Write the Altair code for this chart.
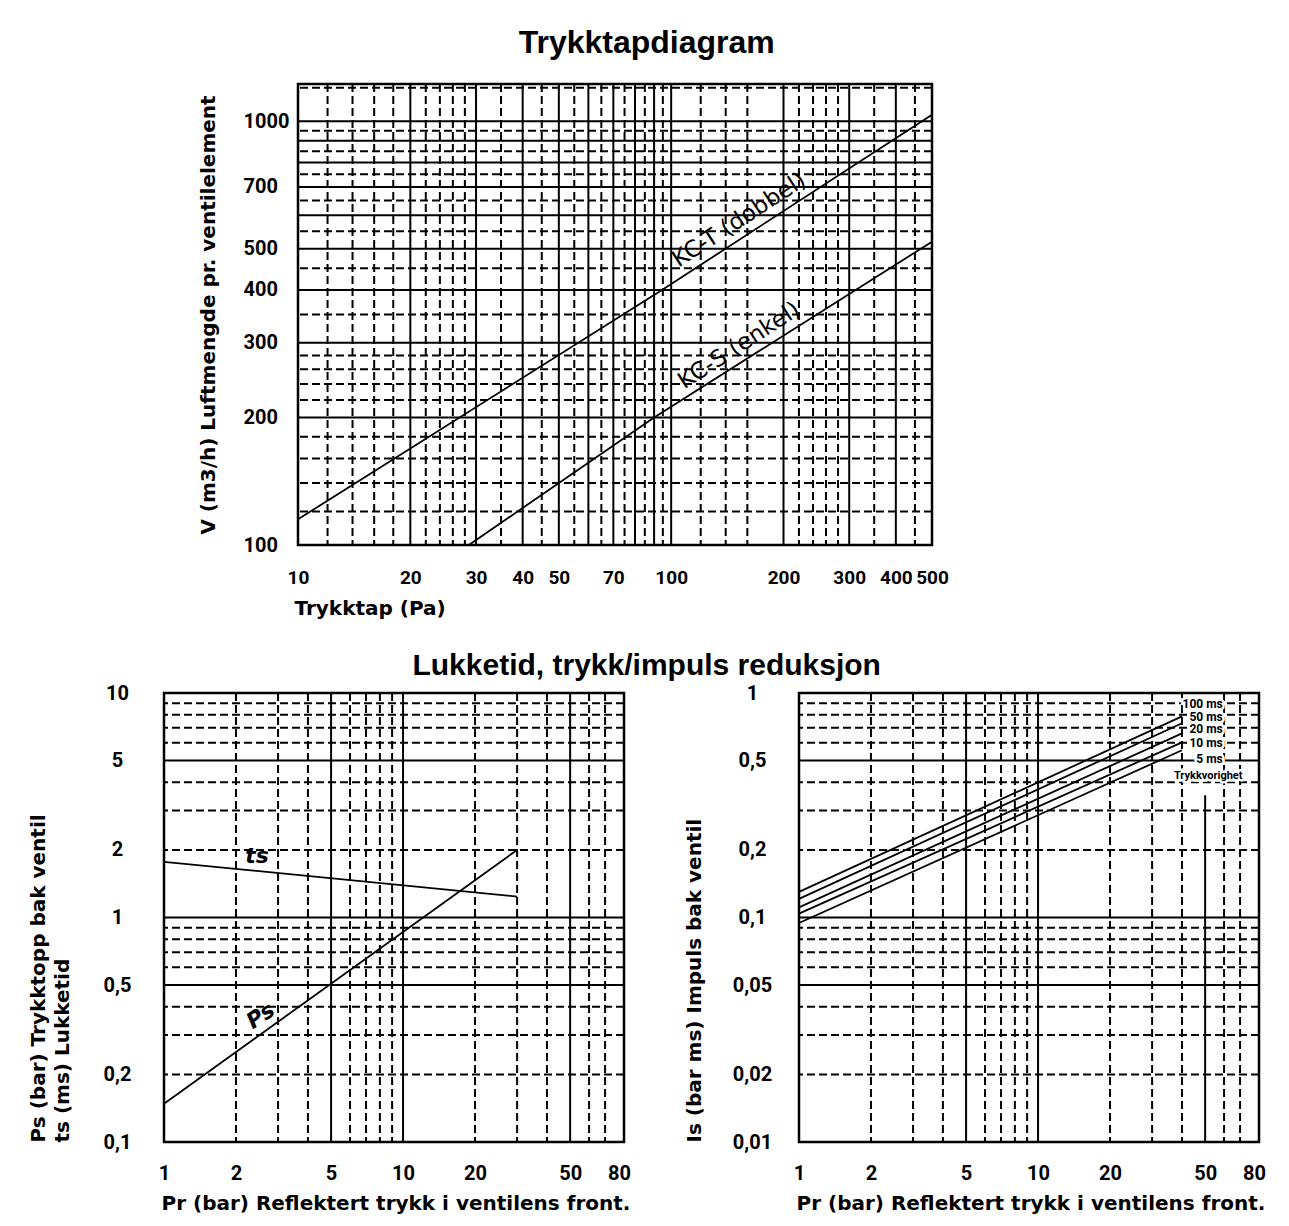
import altair as alt
import pandas as pd

# ---------------- data ----------------
# Top chart: Trykktapdiagram (log-log)
TOP_X_DOMAIN = [10, 500]
TOP_Y_DOMAIN = [100, 1225]
TOP_X_TICKS = [10, 20, 30, 40, 50, 70, 100, 200, 300, 400, 500]
TOP_Y_TICKS = [100, 200, 300, 400, 500, 700, 1000]
TOP_X_SOLID = [20, 30, 40, 50, 60, 70, 80, 90, 100, 200, 300, 400]
TOP_X_DASHED = [12, 14, 16, 18, 22, 24, 26, 28, 35, 45, 55, 65, 75, 85, 95,
                120, 140, 160, 220, 240, 260, 280, 350, 450]
TOP_Y_SOLID = [200, 300, 400, 500, 600, 700, 800, 900, 1000]
TOP_Y_DASHED = [120, 140, 160, 180, 220, 240, 260, 280, 350, 450, 550, 650,
                750, 850, 950, 1200]

KCT_X = [10, 94.5, 500]
KCT_Y = [115, 400, 1037]
KCS_X = [28.7, 90, 500]
KCS_Y = [100, 200, 520]
TOP_CURVE_LABELS = ["KC-T (dobbel)", "KC-S (enkel)"]
TOP_CURVE_LABEL_X = [160, 160]
TOP_CURVE_LABEL_Y = [546, 276]

# Bottom charts: common x axis
BOT_X_DOMAIN = [1, 84]
BOT_X_TICKS = [1, 2, 5, 10, 20, 50, 80]
BOT_X_SOLID = [5, 10, 50]
BOT_X_DASHED = [2, 3, 4, 6, 7, 8, 9, 20, 30, 40, 60, 70]

# Bottom-left: Ps / ts
PS_Y_DOMAIN = [0.1, 10]
PS_Y_TICKS = [0.1, 0.2, 0.5, 1, 2, 5, 10]
PS_Y_SOLID = [0.5, 1, 5]
PS_Y_DASHED = [0.2, 0.3, 0.4, 0.6, 0.7, 0.8, 0.9, 2, 3, 4, 6, 7, 8, 9]
TS_X = [1, 30]
TS_Y = [1.77, 1.24]
PS_X = [1, 30]
PS_Y = [0.148, 2.0]
PS_LABELS = ["ts", "Ps"]
PS_LABEL_X = [2.45, 2.75]
PS_LABEL_Y = [1.61, 0.321]
PS_LABEL_ANGLE = [0, 326]

# Bottom-right: Is
IS_Y_DOMAIN = [0.01, 1]
IS_Y_TICKS = [0.01, 0.02, 0.05, 0.1, 0.2, 0.5, 1]
IS_X_SOLID = [5, 10]
IS_X_SOLID_SHORT = [50]
IS_SHORT_Y = [0.01]
IS_SHORT_Y2 = [0.35]
IS_X_DASHED = [2, 3, 4, 6, 7, 8, 9, 20, 30, 40, 60, 70]
IS_Y_SOLID = [0.05, 0.1, 0.5]
IS_Y_DASHED = [0.02, 0.03, 0.04, 0.06, 0.07, 0.08, 0.09,
               0.2, 0.3, 0.4, 0.6, 0.7, 0.8, 0.9]
DUR_NAMES = ["100 ms", "50 ms", "20 ms", "10 ms", "5 ms"]
DUR_X = [1, 40]
DUR_Y_START = [0.130, 0.121, 0.111, 0.104, 0.0945]
DUR_Y_END = [0.787, 0.733, 0.661, 0.603, 0.556]
DUR_LABEL_Y = [0.89, 0.78, 0.69, 0.6, 0.51]
DUR_LABEL_X = [61, 61, 61, 61, 61]
DUR_TITLE = ["Trykkvorighet"]
DUR_TITLE_X = [51.5]
DUR_TITLE_Y = [0.425]

# ---------------- styling ----------------
FT = "DejaVu Sans"
FTICK = "Roboto"
FTITLE = "Liberation Sans"
LW = 2
DASH = [8, 4]
TICK_SIZE = 20
AXTITLE_SIZE = 20

TOP_W, TOP_H = 634, 461
BOT_W, BOT_H = 460, 449
SPACER_W = 31
ROW_SPACING = 30
COL_SPACING = 50


def lscale(domain):
    return alt.Scale(type="log", domain=domain, nice=False)


def x_axis(values, title, label_expr, title_x, title_y, label_pad, label_size):
    return alt.Axis(values=values, labelExpr=label_expr, title=title,
                    grid=False, ticks=False, tickSize=0, domain=False,
                    labelFlush=False, labelOverlap=False, labelPadding=label_pad,
                    labelFont=FTICK, labelFontSize=label_size, labelFontWeight="bold",
                    labelColor="black", titleFont=FT, titleFontSize=AXTITLE_SIZE,
                    titleFontWeight="bold", titleColor="black", titleAlign="left",
                    titleAnchor="start", titleBaseline="alphabetic",
                    titleX=title_x, titleY=title_y)


def y_axis(values, title, label_expr, label_align, label_pad, title_x,
           title_anchor, title_y=None):
    kw = dict(values=values, labelExpr=label_expr, title=title,
              grid=False, ticks=False, tickSize=0, domain=False,
              labelFlush=False, labelOverlap=False, labelPadding=label_pad,
              labelAlign=label_align, labelBaseline="middle",
              labelFont=FTICK, labelFontSize=TICK_SIZE, labelFontWeight="bold",
              labelColor="black", titleFont=FT, titleFontSize=AXTITLE_SIZE,
              titleFontWeight="bold", titleColor="black",
              titleBaseline="alphabetic", titleX=title_x,
              titleAnchor=title_anchor, titleLineHeight=24)
    if title_y is not None:
        kw["titleY"] = title_y
        kw["titleAlign"] = "left"
    return alt.Axis(**kw)


def panel(xs, ys, xa, ya, vsolid, vdashed, hsolid, hdashed, extra):
    layers = []
    for vals, dashed in ((vdashed, True), (vsolid, False)):
        kw = dict(color="black", strokeWidth=LW)
        if dashed:
            kw["strokeDash"] = DASH
        layers.append(alt.Chart(pd.DataFrame({"x": vals})).mark_rule(**kw)
                      .encode(x=alt.X("x:Q", scale=xs, axis=xa)))
    for vals, dashed in ((hdashed, True), (hsolid, False)):
        kw = dict(color="black", strokeWidth=LW)
        if dashed:
            kw["strokeDash"] = DASH
        layers.append(alt.Chart(pd.DataFrame({"y": vals})).mark_rule(**kw)
                      .encode(y=alt.Y("y:Q", scale=ys, axis=ya)))
    layers += extra
    return layers


def line(xv, yv, xs, ys, xa, ya, group=None):
    df = pd.DataFrame({"x": xv, "y": yv})
    enc = dict(x=alt.X("x:Q", scale=xs, axis=xa), y=alt.Y("y:Q", scale=ys, axis=ya))
    if group is not None:
        df["g"] = group
        enc["detail"] = "g:N"
    return alt.Chart(df).mark_line(color="black", strokeWidth=1.8).encode(**enc)


FRAME = alt.ViewBackground(stroke="black", strokeWidth=2.5)

# ---------------- top chart ----------------
xs_t = lscale(TOP_X_DOMAIN)
ys_t = lscale(TOP_Y_DOMAIN)
xa_t = x_axis(TOP_X_TICKS, "Trykktap (Pa)", "toString(datum.value)", -4, 69, 23, 19)
ya_t = y_axis(TOP_Y_TICKS, "V (m3/h) Luftmengde pr. ventilelement",
              "toString(datum.value)", "left", 55, -84, "middle")

top_labels = alt.Chart(pd.DataFrame({"x": TOP_CURVE_LABEL_X, "y": TOP_CURVE_LABEL_Y,
                                     "t": TOP_CURVE_LABELS})).mark_text(
    font=FT, fontSize=23, angle=327, align="center", baseline="alphabetic",
    dy=-8, color="black").encode(
    x=alt.X("x:Q", scale=xs_t, axis=xa_t), y=alt.Y("y:Q", scale=ys_t, axis=ya_t),
    text="t:N")

top = alt.layer(*panel(xs_t, ys_t, xa_t, ya_t, TOP_X_SOLID, TOP_X_DASHED,
                       TOP_Y_SOLID, TOP_Y_DASHED,
                       [line(KCT_X, KCT_Y, xs_t, ys_t, xa_t, ya_t),
                        line(KCS_X, KCS_Y, xs_t, ys_t, xa_t, ya_t),
                        top_labels])).properties(width=TOP_W, height=TOP_H, view=FRAME)

spacer = alt.Chart(pd.DataFrame({"s": [0]})).mark_text().encode(
    x=alt.value(0), y=alt.value(0)).properties(
    width=SPACER_W, height=10, view=alt.ViewBackground(stroke="transparent"))

# ---------------- bottom-left chart ----------------
COMMA = "replace(toString(datum.value), '.', ',')"
xs_b = lscale(BOT_X_DOMAIN)
ys_p = lscale(PS_Y_DOMAIN)
xa_b = x_axis(BOT_X_TICKS, "Pr (bar) Reflektert trykk i ventilens front.",
              "toString(datum.value)", -3, 67, 21, TICK_SIZE)
ya_p = y_axis(PS_Y_TICKS, ["Ps (bar) Trykktopp bak ventil", "ts (ms) Lukketid"],
              COMMA, "center", 47, -120, "start", BOT_H)

ps_text = alt.Chart(pd.DataFrame({"x": PS_LABEL_X, "y": PS_LABEL_Y, "t": PS_LABELS,
                                  "a": PS_LABEL_ANGLE})).mark_text(
    font=FT, fontSize=22, fontStyle="italic", fontWeight="bold", align="center",
    baseline="alphabetic", dy=-8, color="black").encode(
    x=alt.X("x:Q", scale=xs_b, axis=xa_b), y=alt.Y("y:Q", scale=ys_p, axis=ya_p),
    text="t:N", angle=alt.Angle("a:Q", scale=None))

bl = alt.layer(*panel(xs_b, ys_p, xa_b, ya_p, BOT_X_SOLID, BOT_X_DASHED,
                      PS_Y_SOLID, PS_Y_DASHED,
                      [line(TS_X, TS_Y, xs_b, ys_p, xa_b, ya_p),
                       line(PS_X, PS_Y, xs_b, ys_p, xa_b, ya_p),
                       ps_text])).properties(width=BOT_W, height=BOT_H, view=FRAME)

# ---------------- bottom-right chart ----------------
ys_i = lscale(IS_Y_DOMAIN)
ya_i = y_axis(IS_Y_TICKS, "Is (bar ms) Impuls bak ventil", COMMA, "center", 47,
              -99, "start", BOT_H)

short_rule = alt.Chart(pd.DataFrame({"x": IS_X_SOLID_SHORT, "y": IS_SHORT_Y,
                                     "y2": IS_SHORT_Y2})).mark_rule(
    color="black", strokeWidth=LW).encode(
    x=alt.X("x:Q", scale=xs_b, axis=xa_b), y=alt.Y("y:Q", scale=ys_i, axis=ya_i),
    y2="y2:Q")

dur_x, dur_y, dur_g = [], [], []
for name, y0, y1 in zip(DUR_NAMES, DUR_Y_START, DUR_Y_END):
    dur_x += DUR_X
    dur_y += [y0, y1]
    dur_g += [name, name]


def dur_text(df, size, align, dx, halo):
    kw = dict(font=FTICK, fontSize=size, fontWeight="bold", align=align,
              baseline="middle", dx=dx)
    if halo:
        kw.update(color="white", stroke="white", strokeWidth=5)
    else:
        kw.update(color="black")
    return alt.Chart(df).mark_text(**kw).encode(
        x=alt.X("x:Q", scale=xs_b, axis=xa_b), y=alt.Y("y:Q", scale=ys_i, axis=ya_i),
        text="t:N")


dur_df = pd.DataFrame({"x": DUR_LABEL_X, "y": DUR_LABEL_Y, "t": DUR_NAMES})
dur_title_df = pd.DataFrame({"x": DUR_TITLE_X, "y": DUR_TITLE_Y, "t": DUR_TITLE})

br = alt.layer(*panel(xs_b, ys_i, xa_b, ya_i, IS_X_SOLID, IS_X_DASHED,
                      IS_Y_SOLID, IS_Y_DASHED,
                      [short_rule,
                       line(dur_x, dur_y, xs_b, ys_i, xa_b, ya_i, dur_g),
                       dur_text(dur_df, 12, "right", -3, True),
                       dur_text(dur_title_df, 11, "center", 0, True),
                       dur_text(dur_df, 12, "right", -3, False),
                       dur_text(dur_title_df, 11, "center", 0, False)])).properties(
    width=BOT_W, height=BOT_H, view=FRAME)

# ---------------- assemble ----------------
top_row = alt.hconcat(spacer, top, spacing=0)
bottom_row = alt.hconcat(bl, br, spacing=COL_SPACING).properties(
    title=alt.TitleParams("Lukketid, trykk/impuls reduksjon", font=FTITLE,
                          fontSize=30, fontWeight="bold", color="black",
                          anchor="middle", offset=1))

chart = alt.vconcat(top_row, bottom_row, spacing=ROW_SPACING).properties(
    title=alt.TitleParams("Trykktapdiagram", font=FTITLE, fontSize=32,
                          fontWeight="bold", color="black", anchor="middle",
                          offset=18),
    padding={"left": 18, "top": 18, "right": 5, "bottom": 5},
).configure(background="white").configure_view(stroke="transparent")

chart.save("out.html", embed_options={"renderer": "svg", "actions": False})
